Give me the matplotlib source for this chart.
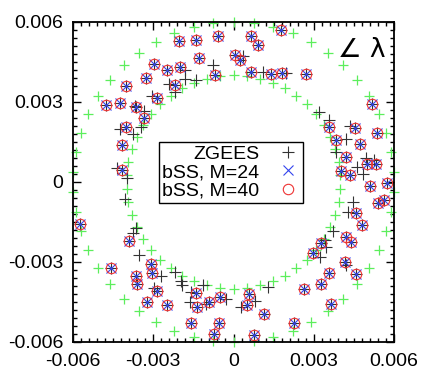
import numpy as np
import matplotlib
matplotlib.use("Agg")
import matplotlib.pyplot as plt
from matplotlib.ticker import MultipleLocator, FixedLocator

plt.rcParams['font.family'] = ['Liberation Sans', 'DejaVu Sans']

# values in units of 1e-3
bss_x = [1.76, 0.67, 0.90, -0.58, -1.39, -2.05, -1.30, -2.97, -2.49, -1.99, -3.26, -4.03, -0.70, -2.17,
         -2.85, 0.05, 0.24, 0.67, 1.42, 1.83, 2.70, -4.78, -4.25, -3.65, -3.36, -4.03, -4.17, -4.16,
         5.19, 5.38, 3.56, 4.53, 3.82, 4.74, 4.20, 4.00, 4.37, 4.99, 5.34, 5.12, 5.72, 5.41, 5.62,
         4.57, 4.82, 4.22, 4.41, 3.28, 2.97, 4.16, 4.57, 3.57, 3.26, 2.62, 3.63, 1.13, 2.27, 0.77,
         0.58, 0.51, -0.52, -0.91, -0.55, -0.73, -1.41, -1.38, -1.58, -2.49, -3.22, -2.85, -3.03,
         -3.09, -3.65, -3.59, -4.59, -3.92, -5.75]
bss_y = [5.71, 5.46, 5.12, 5.46, 5.34, 5.29, 4.65, 4.43, 4.21, 4.30, 3.90, 3.61, 4.02, 3.65,
         3.14, 4.77, 4.58, 4.11, 4.06, 4.08, 4.06, 2.87, 2.96, 2.81, 2.39, 2.05, 1.39, 0.45,
         2.93, 1.85, 2.05, 2.04, 1.58, 1.42, 0.95, 0.41, 0.26, 0.66, 0.68, -0.15, -0.03, -0.80, -0.68,
         -1.18, -1.62, -2.05, -2.24, -2.30, -2.66, -2.99, -3.46, -3.43, -3.83, -4.01, -4.58, -4.94, -5.29, -5.75,
         -4.21, -4.62, -4.31, -4.50, -5.29, -5.69, -4.18, -4.68, -5.29, -4.62, -4.50, -4.08, -3.41,
         -3.06, -3.53, -3.83, -3.21, -2.20, -1.58]

zgees_extra_x = [-0.76, 0.36, 1.11, 1.98, -1.83, -1.83, -1.39, -2.41, -2.20, -3.04, -3.69, -3.36, -3.45,
                 -4.25, -3.76, -4.36, -3.98, -4.07, -3.66, -3.76, -3.53, -2.70, -2.98, -2.20, -1.95,
                 -1.91, -1.58, -1.64, -1.14, -1.02, -0.27, 3.41, 3.47, 3.25, 4.22, 1.29, 0.79, 0.29,
                 4.22, 3.82, 4.94, 5.24, 4.62, 4.84, 4.47, 4.28, 3.72, 3.20, 3.57, 4.34]
zgees_extra_y = [4.40, 4.73, 4.13, 4.10, 4.21, 3.85, 3.81, 3.66, 3.38, 3.22, 2.84, 2.68, 2.08,
                 1.99, 1.79, 0.54, 0.16, -0.64, -1.74, -1.93, -2.73, -3.51, -3.96, -3.36, -3.70,
                 -3.88, -4.13, -4.51, -3.88, -4.57, -4.38, -2.19, -2.44, -2.82, -3.13, -3.95, -4.45, -4.70,
                 1.62, 1.11, 0.89, 0.82, 0.58, 0.29, -0.74, -1.14, -1.84, 2.63, 2.34, 2.09]

zgees_x = bss_x + zgees_extra_x
zgees_y = bss_y + zgees_extra_y

inner_x = [3.99, 3.93, 3.80, 3.62, 3.38, 3.08, 2.74, 2.35, 1.93, 1.47, 0.99, 0.50, 0.00,
           -0.50, -0.99, -1.47, -1.93, -2.35, -2.74, -3.08, -3.38, -3.62, -3.80, -3.93, -3.99,
           -3.99, -3.93, -3.80, -3.62, -3.38, -3.08, -2.74, -2.35, -1.93, -1.47, -0.99, -0.50, 0.00,
           0.50, 0.99, 1.47, 1.93, 2.35, 2.74, 3.08, 3.38, 3.62, 3.80, 3.93, 3.99]
inner_y = [0.25, 0.75, 1.24, 1.70, 2.14, 2.55, 2.92, 3.24, 3.51, 3.72, 3.87, 3.97, 4.00,
           3.97, 3.87, 3.72, 3.51, 3.24, 2.92, 2.55, 2.14, 1.70, 1.24, 0.75, 0.25,
           -0.25, -0.75, -1.24, -1.70, -2.14, -2.55, -2.92, -3.24, -3.51, -3.72, -3.87, -3.97, -4.00,
           -3.97, -3.87, -3.72, -3.51, -3.24, -2.92, -2.55, -2.14, -1.70, -1.24, -0.75, -0.25]
outer_x = [5.99, 5.89, 5.71, 5.43, 5.07, 4.62, 4.11, 3.53, 2.89, 2.21, 1.49, 0.75, 0.00,
           -0.75, -1.49, -2.21, -2.89, -3.53, -4.11, -4.62, -5.07, -5.43, -5.71, -5.89, -5.99,
           -5.99, -5.89, -5.71, -5.43, -5.07, -4.62, -4.11, -3.53, -2.89, -2.21, -1.49, -0.75, 0.00,
           0.75, 1.49, 2.21, 2.89, 3.53, 4.11, 4.62, 5.07, 5.43, 5.71, 5.89, 5.99]
outer_y = [0.38, 1.12, 1.85, 2.55, 3.21, 3.82, 4.37, 4.85, 5.26, 5.58, 5.81, 5.95, 6.00,
           5.95, 5.81, 5.58, 5.26, 4.85, 4.37, 3.82, 3.21, 2.55, 1.85, 1.12, 0.38,
           -0.38, -1.12, -1.85, -2.55, -3.21, -3.82, -4.37, -4.85, -5.26, -5.58, -5.81, -5.95, -6.00,
           -5.95, -5.81, -5.58, -5.26, -4.85, -4.37, -3.82, -3.21, -2.55, -1.85, -1.12, -0.38]

tick_vals = [-0.006, -0.003, 0.0, 0.003, 0.006]
tick_labels = ["-0.006", "-0.003", "0", "0.003", "0.006"]

S = 1e-3
fig = plt.figure(figsize=(4.21, 3.70), dpi=100)
ax = fig.add_axes([73/421, 1-342/370, 321/421, 320/370])

green = '#5cee5c'
ax.plot(np.array(inner_x)*S, np.array(inner_y)*S, '+', color=green, ms=7.5, mew=0.9, ls='none', clip_on=False)
ax.plot(np.array(outer_x)*S, np.array(outer_y)*S, '+', color=green, ms=7.5, mew=0.9, ls='none', clip_on=False)
ax.plot(np.array(zgees_x)*S, np.array(zgees_y)*S, '+', color='#333333', ms=8, mew=0.8, ls='none',
        label='ZGEES', clip_on=False)
ax.plot(np.array(bss_x)*S, np.array(bss_y)*S, 'x', color='#3344ee', ms=6.5, mew=0.8, ls='none',
        label='bSS, M=24', clip_on=False)
ax.plot(np.array(bss_x)*S, np.array(bss_y)*S, 'o', mfc='none', mec='#ee3333', ms=7.5, mew=0.8, ls='none',
        label='bSS, M=40', clip_on=False)

ax.set_xlim(-0.006, 0.006)
ax.set_ylim(-0.006, 0.006)
ax.xaxis.set_major_locator(FixedLocator(tick_vals))
ax.yaxis.set_major_locator(FixedLocator(tick_vals))
ax.set_xticklabels(tick_labels)
ax.set_yticklabels(tick_labels)
ax.xaxis.set_minor_locator(MultipleLocator(0.0003))
ax.yaxis.set_minor_locator(MultipleLocator(0.0003))
ax.tick_params(which='both', direction='in', top=True, right=True, labelsize=14, width=1.0)
ax.tick_params(which='major', length=6)
ax.tick_params(which='minor', length=3)
ax.tick_params(axis='x', which='major', pad=8)
ax.tick_params(axis='y', which='major', pad=7)
for sp in ax.spines.values():
    sp.set_linewidth(1.3)

leg = ax.legend(loc='upper left', bbox_to_anchor=(0.268, 0.625), markerfirst=False,
                fontsize=14, frameon=True, fancybox=False, edgecolor='black',
                handlelength=1.2, handletextpad=0.9, borderpad=0.15, labelspacing=0.05,
                borderaxespad=0, framealpha=1)
leg.get_frame().set_linewidth(1.0)
for t in leg.get_texts():
    t.set_ha('right')
leg._legend_box.align = "right"

ax.text(0.90, 0.912, "\u2220 \u03bb", transform=ax.transAxes, fontsize=19, ha='center', va='center',
        family=['DejaVu Sans'])

fig.savefig("out.png", dpi=100)
